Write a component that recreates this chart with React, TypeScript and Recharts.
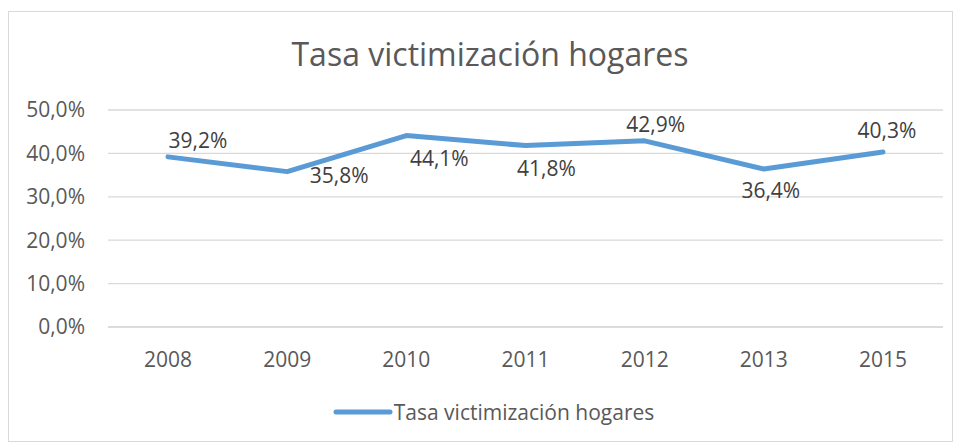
import React from 'react';
import { LineChart, Line, XAxis, YAxis, CartesianGrid, Legend, LabelList } from 'recharts';

const years = ['2008', '2009', '2010', '2011', '2012', '2013', '2015'];
const tasa = [39.2, 35.8, 44.1, 41.8, 42.9, 36.4, 40.3];
const yTicks = [0, 10, 20, 30, 40, 50];

// where each data label sits relative to its point (dx, dy)
const labelOffsets = [
  [30, -17], [52, 3], [33, 22], [21, 22], [11, -17], [7, 21], [4, -22],
];

const data = years.map((year, i) => ({ year, tasa: tasa[i] }));

const FONT = '"Open Sans", sans-serif';
const fmt = (v: number) => `${v.toFixed(1).replace('.', ',')}%`;

const DataLabel = (props: any) => {
  const { x, y, index, value } = props;
  const [dx, dy] = labelOffsets[index];
  return (
    <text x={x + dx} y={y + dy} textAnchor="middle" dominantBaseline="central"
      fill="#404040" fontSize={21} fontFamily={FONT}>
      {fmt(value)}
    </text>
  );
};

const LegendContent = () => (
  <div style={{ display: 'flex', alignItems: 'center', justifyContent: 'center', fontFamily: FONT, fontSize: 21, color: '#595959', height: 30 }}>
    <svg width={60} height={10} style={{ marginRight: 1 }}>
      <line x1={3} y1={5} x2={57} y2={5} stroke="#5B9BD5" strokeWidth={5} strokeLinecap="round" />
    </svg>
    <span>Tasa victimización hogares</span>
  </div>
);

export default function App() {
  return (
    <div style={{ position: 'absolute', left: 0, top: 0, width: 961, height: 446, background: '#fff' }}>
      <div style={{ position: 'absolute', left: 8, top: 11, width: 943, height: 429, border: '1px solid #d9d9d9' }} />
      <div style={{ position: 'absolute', left: 0, top: 30, width: 980, textAlign: 'center', fontFamily: FONT, fontSize: 32, color: '#595959', lineHeight: '48px' }}>
        Tasa victimización hogares
      </div>
      <div style={{ position: 'absolute', left: 0, top: 0 }}>
        <LineChart width={961} height={446} data={data} margin={{ top: 110, right: 18, bottom: 39, left: 8 }}>
          <CartesianGrid horizontal vertical={false} stroke="#d9d9d9" strokeWidth={1.3} />
          <XAxis dataKey="year" height={50} tickSize={0} tickMargin={25} padding={{ left: 60, right: 60 }}
            axisLine={{ stroke: '#d9d9d9', strokeWidth: 1.3 }} tickLine={false}
            tick={{ fill: '#595959', fontSize: 21, fontFamily: FONT }} />
          <YAxis width={100} domain={[0, 50]} ticks={yTicks} tickFormatter={fmt}
            axisLine={false} tickLine={false} tickSize={0} tickMargin={23}
            tick={{ fill: '#595959', fontSize: 21, fontFamily: FONT }} />
          <Legend verticalAlign="bottom" height={30} content={<LegendContent />}
            wrapperStyle={{ top: 397, left: 13, width: 961 }} />
          <Line type="linear" dataKey="tasa" stroke="#5B9BD5" strokeWidth={5} strokeLinecap="round"
            strokeLinejoin="round" dot={false} activeDot={false} isAnimationActive={false}>
            <LabelList dataKey="tasa" content={<DataLabel />} />
          </Line>
        </LineChart>
      </div>
    </div>
  );
}
